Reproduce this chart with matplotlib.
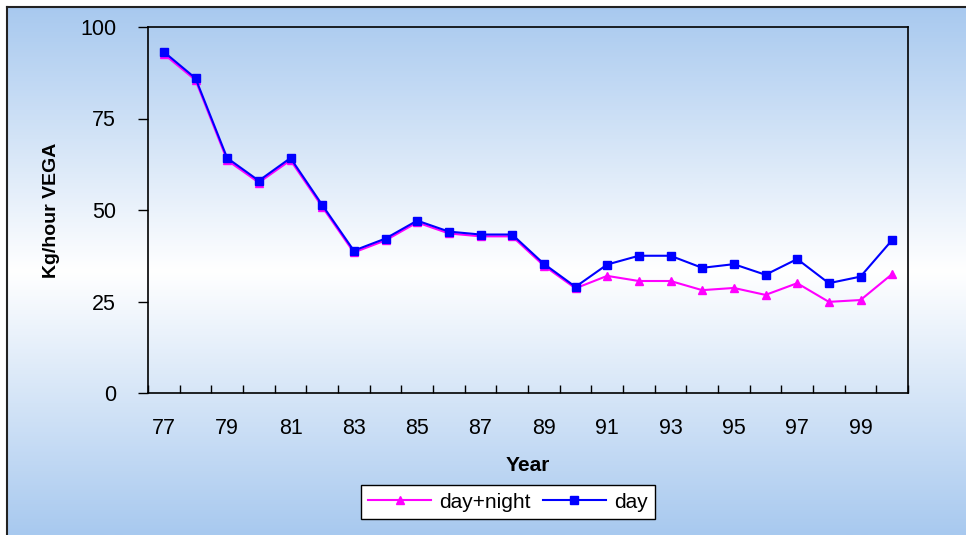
import numpy as np
import matplotlib
matplotlib.use("Agg")
import matplotlib.pyplot as plt
from matplotlib.colors import LinearSegmentedColormap

plt.rcParams['font.family'] = ['Liberation Sans', 'DejaVu Sans']

years = ["77", "78", "79", "80", "81", "82", "83", "84", "85", "86", "87", "88",
         "89", "90", "91", "92", "93", "94", "95", "96", "97", "98", "99", "00"]
day_night = [92.6, 85.5, 63.6, 57.5, 63.6, 50.9, 38.4, 41.7, 46.6, 43.6, 42.8, 42.8,
             34.8, 28.6, 32.0, 30.6, 30.6, 28.1, 28.7, 26.8, 30.0, 24.9, 25.4, 32.5]
day = [93.2, 86.0, 64.2, 58.0, 64.2, 51.4, 38.9, 42.2, 47.1, 44.1, 43.3, 43.3,
       35.3, 29.0, 35.1, 37.5, 37.5, 34.2, 35.2, 32.3, 36.6, 30.0, 31.8, 41.8]
tick_labels = ["77", "79", "81", "83", "85", "87", "89", "91", "93", "95", "97", "99"]
y_ticks = [0, 25, 50, 75, 100]

W, H = 966, 535
fig = plt.figure(figsize=(W / 100, H / 100), dpi=100)
fig.patch.set_facecolor('white')

# background gradient panel
bg = fig.add_axes([7 / W, 0, 1 - 7 / W, 1 - 7 / H])
blue = (168 / 255, 201 / 255, 239 / 255)
cmap = LinearSegmentedColormap.from_list('g', [blue, (1, 1, 1), blue])
grad = np.linspace(0, 1, 512).reshape(-1, 1)
bg.imshow(grad, aspect='auto', cmap=cmap, extent=[0, 1, 0, 1], origin='upper')
bg.set_xlim(0, 1)
bg.set_ylim(0, 1)
bg.set_xticks([])
bg.set_yticks([])
for s in ['right', 'bottom']:
    bg.spines[s].set_visible(False)
for s in ['left', 'top']:
    bg.spines[s].set_linewidth(1.5)
    bg.spines[s].set_color('#222222')
bg.set_zorder(0)

ax = fig.add_axes([148 / W, 1 - 393 / H, (908 - 148) / W, (393 - 27) / H])
ax.set_facecolor('none')
ax.set_zorder(1)
x = np.arange(len(years))
ax.plot(x, day_night, color='#FF00FF', marker='^', markersize=6, linewidth=1.5,
        label='day+night', zorder=3)
ax.plot(x, day, color='#0000FF', marker='s', markersize=5.5, linewidth=1.5,
        label='day', zorder=4)

ax.set_xlim(-0.5, len(years) - 0.5)
ax.set_ylim(0, 100)
ax.set_yticks(y_ticks)
ax.set_yticklabels([str(v) for v in y_ticks], fontsize=15.5)
ax.tick_params(axis='y', direction='out', length=7, width=1, pad=16)

ax.set_xticks(x[::2])
ax.set_xticklabels(tick_labels, fontsize=15.5)
ax.set_xticks(np.arange(-0.5, len(years)), minor=True)
ax.tick_params(axis='x', which='major', length=0, pad=18)
ax.tick_params(axis='x', which='minor', direction='in', length=6, width=1)

for s in ax.spines.values():
    s.set_linewidth(1.2)
    s.set_color('black')

ax.set_ylabel('Kg/hour VEGA', fontsize=14, fontweight='bold', labelpad=14)
ax.set_xlabel('Year', fontsize=15, fontweight='bold', labelpad=12)

leg = fig.legend(loc='center', bbox_to_anchor=(508 / W, 1 - 502 / H), ncol=2,
                 fontsize=15, frameon=True, fancybox=False, edgecolor='black',
                 framealpha=1, handlelength=3, columnspacing=0.6, handletextpad=0.4,
                 borderpad=0.35)
leg.get_frame().set_linewidth(1)

fig.savefig('out.png', dpi=100)
